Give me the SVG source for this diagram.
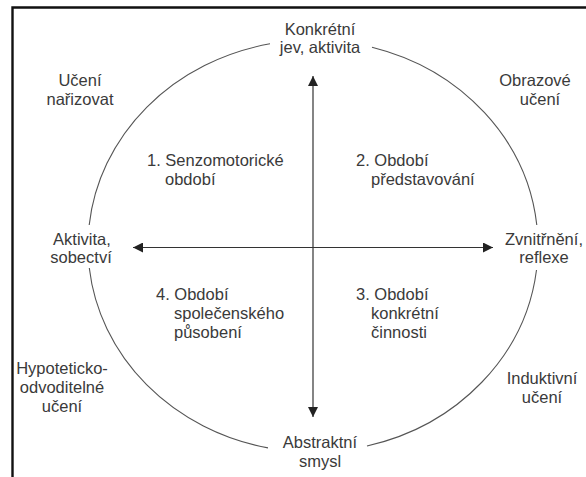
<svg xmlns="http://www.w3.org/2000/svg" width="586" height="477" viewBox="0 0 586 477">
<defs>
<style>
.t{font-family:"Liberation Sans",Arial,sans-serif;font-size:16.5px;fill:#3a3a3a}
.c{text-anchor:middle}
.arc{fill:none;stroke:#555;stroke-width:1.1}
.ax{fill:none;stroke:#333;stroke-width:1.2}
.frame{fill:none;stroke:#111;stroke-width:2.4}
</style>
<marker id="ah" viewBox="0 0 10 10" refX="10" refY="5" markerWidth="10" markerHeight="10" markerUnits="userSpaceOnUse" orient="auto">
<path d="M0,0 L10,5 L0,10 Z" fill="#222"/>
</marker>
</defs>
<rect width="586" height="477" fill="#fff"/>
<path class="frame" d="M12.5,477 V7.5 H586"/>
<g id="circle">
<path class="arc" d="M270,43.8 A225,206 0 0,0 89.2,225"/>
<path class="arc" d="M89.3,268 A225,206 0 0,0 268,447.9"/>
<path class="arc" d="M367,446 A225,206 0 0,0 536.5,270"/>
<path class="arc" d="M536.8,225 A225,206 0 0,0 372,47.2"/>
</g>
<g id="connectors">
<line class="ax" x1="313" y1="247.5" x2="313" y2="76" marker-end="url(#ah)"/>
<line class="ax" x1="313" y1="247.5" x2="313" y2="417" marker-end="url(#ah)"/>
<line class="ax" x1="313" y1="247.5" x2="133" y2="247.5" marker-end="url(#ah)"/>
<line class="ax" x1="313" y1="247.5" x2="493" y2="247.5" marker-end="url(#ah)"/>
</g>
<g id="top"><text class="t c" x="320" y="35">Konkrétní</text><text class="t c" x="320" y="53">jev, aktivita</text></g>
<g id="bottom"><text class="t c" x="320" y="448">Abstraktní</text><text class="t c" x="320" y="467">smysl</text></g>
<g id="left"><text class="t c" x="82" y="245">Aktivita,</text><text class="t c" x="81" y="263">sobectví</text></g>
<g id="right"><text class="t c" x="544" y="245">Zvnitřnění,</text><text class="t c" x="544" y="263">reflexe</text></g>
<g id="tl"><text class="t c" x="80" y="86">Učení</text><text class="t c" x="80" y="105">nařizovat</text></g>
<g id="tr"><text class="t c" x="535" y="86">Obrazové</text><text class="t c" x="540" y="105">učení</text></g>
<g id="bl"><text class="t c" x="62" y="374">Hypoteticko-</text><text class="t c" x="62" y="393">odvoditelné</text><text class="t c" x="62" y="412">učení</text></g>
<g id="br"><text class="t c" x="542" y="384">Induktivní</text><text class="t c" x="542" y="403">učení</text></g>
<g id="q1"><text class="t" x="147" y="166">1. Senzomotorické</text><text class="t" x="165" y="185">období</text></g>
<g id="q2"><text class="t" x="356" y="166">2. Období</text><text class="t" x="371" y="185">představování</text></g>
<g id="q4"><text class="t" x="156" y="300">4. Období</text><text class="t" x="174" y="319">společenského</text><text class="t" x="174" y="338">působení</text></g>
<g id="q3"><text class="t" x="356" y="300">3. Období</text><text class="t" x="371" y="319">konkrétní</text><text class="t" x="371" y="338">činnosti</text></g>
</svg>
